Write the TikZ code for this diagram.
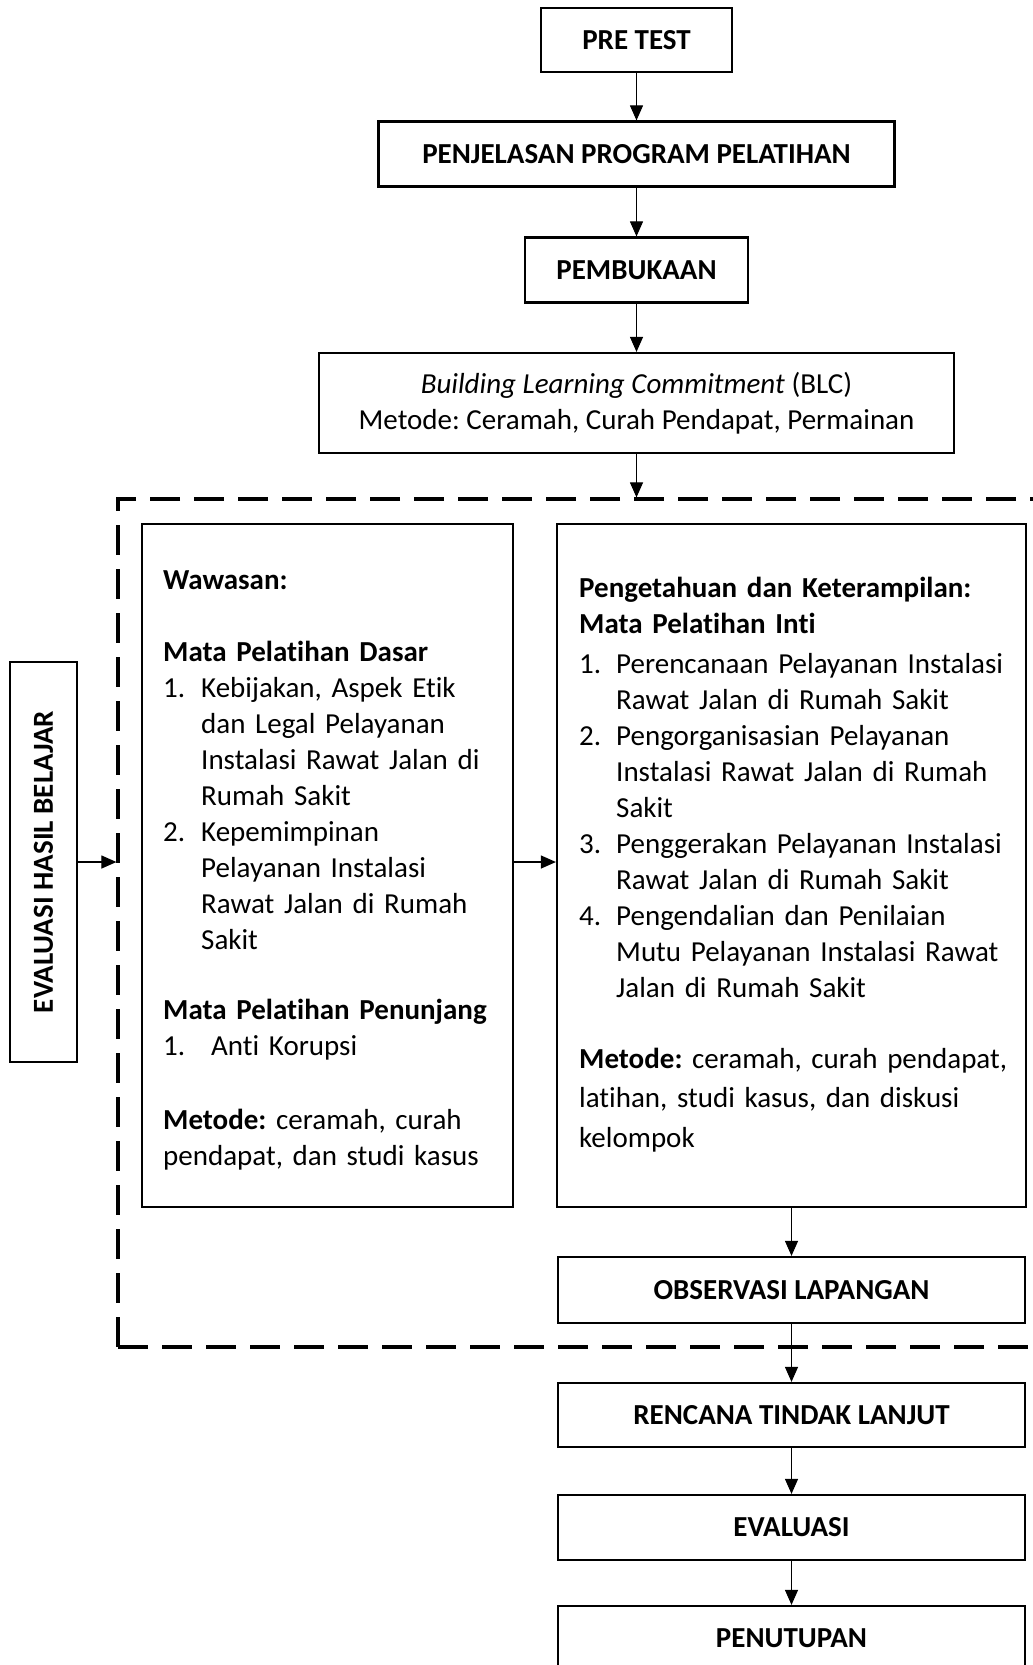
\documentclass[tikz,border=0pt]{standalone}
\usepackage{fontspec}
\setmainfont{Carlito}[Ligatures={NoCommon}]
\frenchspacing
\usetikzlibrary{arrows.meta,positioning}

\begin{document}
\begin{tikzpicture}[x=1pt,y=-1pt,node distance=120pt,on grid,
    kotak/.style={draw,line width=2.2pt,inner sep=0pt,font=\bfseries\fontsize{29}{36}\selectfont},
    isi/.style={anchor=base west,inner sep=0pt,text width=#1,align=left,font=\fontsize{29}{36}\selectfont},
    panah/.style={-{Triangle[length=15pt,width=13pt]},line width=1.1pt}]
        \useasboundingbox (0,0) rectangle (1033,1665);
        \node[kotak,minimum width=191pt,minimum height=64pt] (pre_test) at (636.5,40) {PRE TEST};
        \node[kotak,minimum width=516pt,minimum height=65pt] (penjelasan) [below=114pt of pre_test] {PENJELASAN PROGRAM PELATIHAN};
        \node[kotak,minimum width=223pt,minimum height=65pt] (pembukaan) [below=116pt of penjelasan] {PEMBUKAAN};
        \node[kotak,minimum width=635pt,minimum height=100pt,align=center,font=\mdseries\fontsize{29}{36}\selectfont] (blc) [below=133pt of pembukaan]
            {\textit{Building Learning Commitment} (BLC)\\Metode: Ceramah, Curah Pendapat, Permainan};
        % kotak putus-putus
        \node[draw,line width=3.2pt,dash pattern=on 30pt off 14pt,minimum width=927pt,minimum height=848pt,inner sep=0pt] (kelompok) at (581.5,923) {};
        \node[kotak,minimum width=400pt,minimum height=67pt,rotate=90] (evaluasi_hasil) at (43.5,862) {EVALUASI HASIL BELAJAR};
        \node[kotak,minimum width=371pt,minimum height=683pt] (wawasan) at (327.5,865.5) {};
        \node[kotak,minimum width=469pt,minimum height=683pt] (inti) at (791.5,865.5) {};
        \node[isi=360pt] (wawasan_isi) at (163,589.5) {%
            \textbf{Wawasan:}\\[36pt]
            \textbf{Mata Pelatihan Dasar}\\
            \makebox[38pt][l]{1.}Kebijakan, Aspek Etik\\
            \hspace*{38pt}dan Legal Pelayanan\\
            \hspace*{38pt}Instalasi Rawat Jalan di\\
            \hspace*{38pt}Rumah Sakit\\
            \makebox[38pt][l]{2.}Kepemimpinan\\
            \hspace*{38pt}Pelayanan Instalasi\\
            \hspace*{38pt}Rawat Jalan di Rumah\\
            \hspace*{38pt}Sakit\\[34pt]
            \textbf{Mata Pelatihan Penunjang}\\
            \makebox[48pt][l]{1.}Anti Korupsi\\[38pt]
            \textbf{Metode:} ceramah, curah\\
            pendapat, dan studi kasus};
        \node[isi=450pt] (inti_isi) at (579,597) {%
            \textbf{Pengetahuan dan Keterampilan:}\\
            \textbf{Mata Pelatihan Inti}\\[4pt]
            \makebox[37pt][l]{1.}Perencanaan Pelayanan Instalasi\\
            \hspace*{37pt}Rawat Jalan di Rumah Sakit\\
            \makebox[37pt][l]{2.}Pengorganisasian Pelayanan\\
            \hspace*{37pt}Instalasi Rawat Jalan di Rumah\\
            \hspace*{37pt}Sakit\\
            \makebox[37pt][l]{3.}Penggerakan Pelayanan Instalasi\\
            \hspace*{37pt}Rawat Jalan di Rumah Sakit\\
            \makebox[37pt][l]{4.}Pengendalian dan Penilaian\\
            \hspace*{37pt}Mutu Pelayanan Instalasi Rawat\\
            \hspace*{37pt}Jalan di Rumah Sakit\\[35pt]
            \textbf{Metode:} ceramah, curah pendapat,\\[3.5pt]
            latihan, studi kasus, dan diskusi\\[3.5pt]
            kelompok};
        \node[kotak,minimum width=467pt,minimum height=66pt] (observasi) [below=424.5pt of inti] {OBSERVASI LAPANGAN};
        \node[kotak,minimum width=467pt,minimum height=64pt] (rtl) [below=125pt of observasi] {RENCANA TINDAK LANJUT};
        \node[kotak,minimum width=467pt,minimum height=65pt] (evaluasi) [below=112.5pt of rtl] {EVALUASI};
        \node[kotak,minimum width=467pt,minimum height=65pt] (penutupan) [below=111pt of evaluasi] {PENUTUPAN};
        \path[panah] (pre_test) edge (penjelasan);
        \path[panah] (penjelasan) edge (pembukaan);
        \path[panah] (pembukaan) edge (blc);
        \path[panah] (blc.south) edge (blc.south |- kelompok.north);
        \path[panah] (evaluasi_hasil) edge (evaluasi_hasil -| kelompok.west);
        \path[panah] (wawasan.east |- evaluasi_hasil) edge (inti.west |- evaluasi_hasil);
        \path[panah] (inti) edge (observasi);
        \path[panah] (observasi) edge (rtl);
        \path[panah] (rtl) edge (evaluasi);
        \path[panah] (evaluasi) edge (penutupan);
      \end{tikzpicture}
\end{document}
